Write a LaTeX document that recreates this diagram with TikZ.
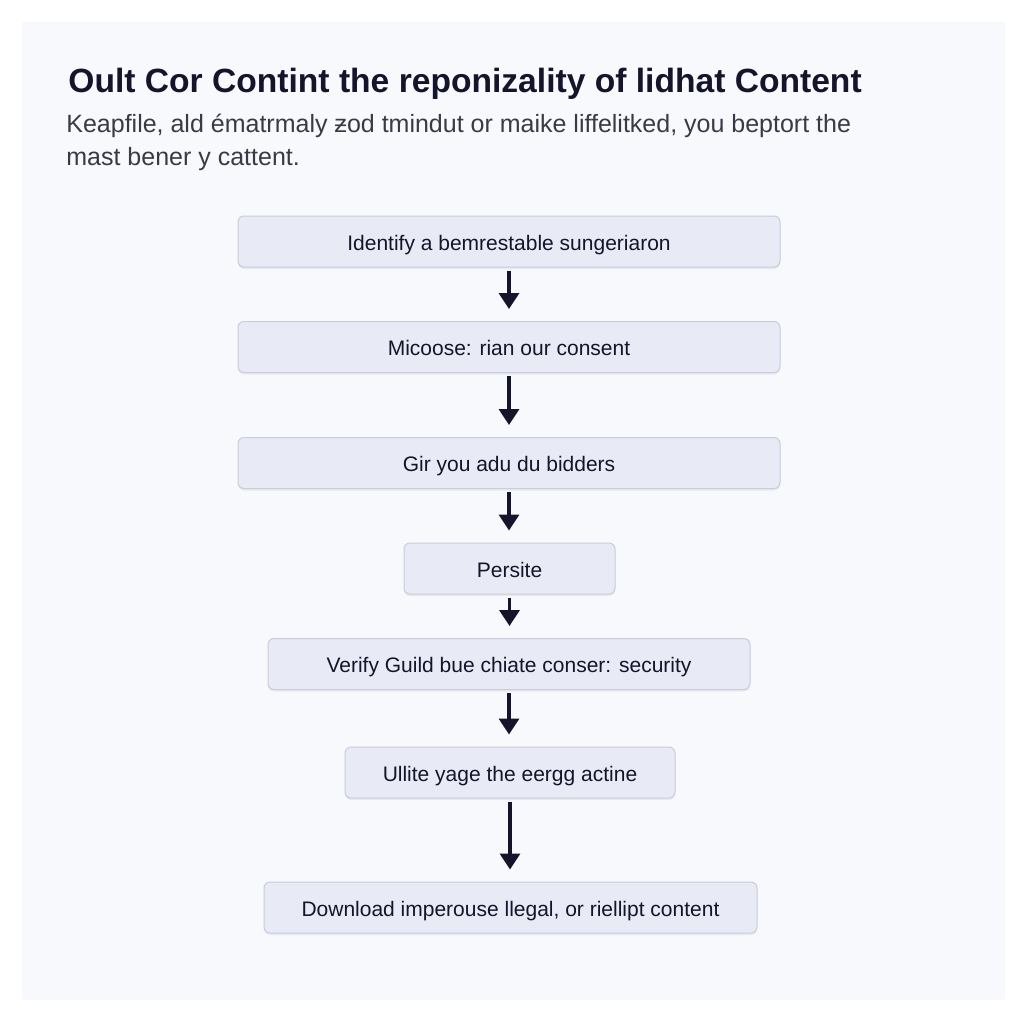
\documentclass[tikz,border=0pt]{standalone}
\usepackage{fontspec}
\setmainfont{Liberation Sans}
\usepackage{tikz}
\usetikzlibrary{arrows.meta,positioning,shadows}
\definecolor{pageCol}{HTML}{F8F9FC}
\definecolor{boxCol}{HTML}{E8EBF5}
\definecolor{boxEdge}{HTML}{C8CDDC}
\definecolor{inkCol}{HTML}{14142B}
\definecolor{subCol}{HTML}{3A3A46}
\tikzset{
  stepbox/.style={draw=boxEdge, fill=boxCol, rounded corners=3pt, line width=0.5pt,
                  minimum height=25.5pt, text height=9pt, text depth=0.5pt,
                  font=\fontsize{10.5}{12}\selectfont, text=inkCol,
                  drop shadow={opacity=0.12, shadow xshift=0pt, shadow yshift=-1pt}},
  introline/.style={anchor=base west, inner sep=0pt, text=subCol,
                    font=\fontsize{12.5}{15}\selectfont},
  flow/.style={-{Triangle[length=8pt,width=10pt]}, line width=1.7pt, inkCol,
               shorten <=1.5pt, shorten >=6pt},
}
\begin{document}
\begin{tikzpicture}[x=0.5pt,y=-0.5pt]
  \useasboundingbox (0,0) rectangle (1024,1024);
  \fill[white] (0,0) rectangle (1024,1024);
  \fill[pageCol] (22,22) rectangle (1005,1000);

  \node[anchor=base west, inner sep=0pt, text=inkCol,
        font=\fontsize{16.8}{19}\selectfont\bfseries] (title) at (68,92)
        {Oult Cor Contint the reponizality of lidhat Content};
  \node[introline] (intro1) at (66,132)
        {Keapfile, ald ématrmaly ƶod tmindut or maike liffelitked, you beptort the};
  \node[introline] (intro2) at (66,165) {mast bener y cattent.};

  % steps
  \node[stepbox, minimum width=271pt] (s1) at (509,241.5) {Identify a bemrestable sungeriaron};
  \node[stepbox, minimum width=271pt] (s2) at (509,347) {Micoose: rian our consent};
  \node[stepbox, minimum width=271pt] (s3) at (509,463) {Gir you adu du bidders};
  \node[stepbox, minimum width=105.5pt] (s4) at (509.5,568.5) {Persite};
  \node[stepbox, minimum width=241pt] (s5) at (509,664) {Verify Guild bue chiate conser: security};
  \node[stepbox, minimum width=165pt] (s6) at (510,772.5) {Ullite yage the eergg actine};
  \node[stepbox, minimum width=246.5pt] (s7) at (510.5,907.5) {Download imperouse llegal, or riellipt content};

  \foreach \a/\b in {s1/s2,s2/s3,s3/s4,s4/s5,s5/s6,s6/s7}{\draw[flow] (\a.south) -- (\a.south|-\b.north);}
\end{tikzpicture}
\end{document}
